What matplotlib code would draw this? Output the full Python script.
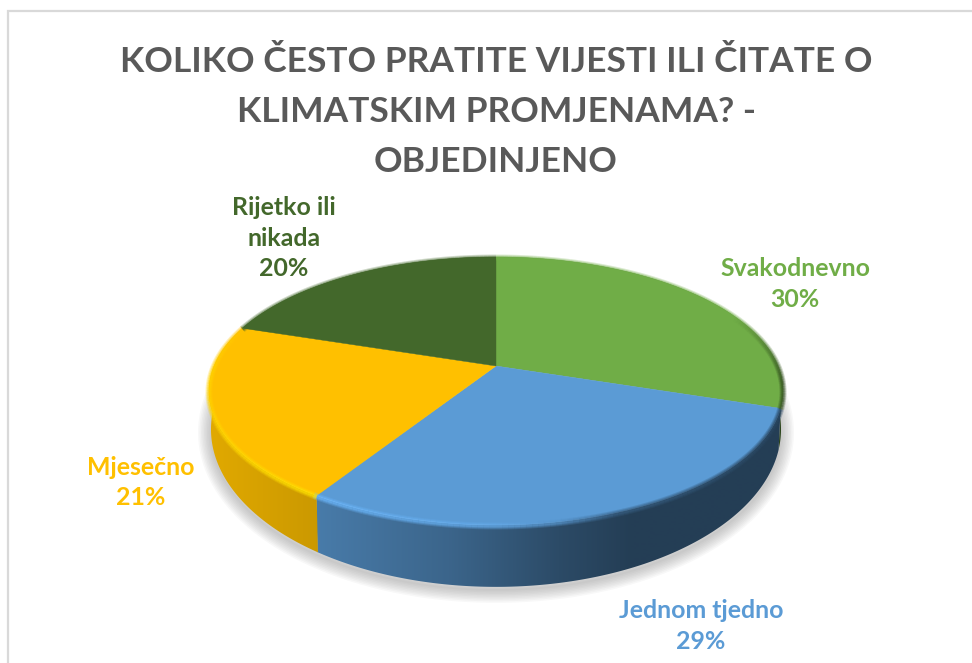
#!/usr/bin/python3
import numpy as np
import matplotlib
matplotlib.use('Agg')
import matplotlib.pyplot as plt
from matplotlib.patches import Polygon
from matplotlib.collections import LineCollection

title = "KOLIKO ČESTO PRATITE VIJESTI ILI ČITATE O\nKLIMATSKIM PROMJENAMA? -\nOBJEDINJENO"
categories = ["Svakodnevno", "Jednom tjedno", "Mjesečno", "Rijetko ili\nnikada"]
values = [30, 29, 21, 20]
colors = ["#70ad47", "#5b9bd5", "#ffc000", "#43682b"]

# where the labels sit, in pixels
label_x = [795, 701, 141, 284]
label_y = [284, 626, 482.5, 238]

# perspective of the disc, fitted on the picture
cx, cy = 496, 366
bx, ay, k = 282, 129.3, 0.1866
bx2, cy2, ay2 = 280, 400, 152


def top_rim(theta):
    u, v = np.sin(np.radians(theta)), np.cos(np.radians(theta))
    w = 1 + k * v
    return cx + bx * u / w, cy - ay * v / w


def bottom_rim(theta):
    u, v = np.sin(np.radians(theta)), np.cos(np.radians(theta))
    w = 1 + k * v
    return cx + bx2 * u / w, cy2 - ay2 * v / w


def side_shade(x):
    return np.interp(x, [210, 312, 450, 560, 630, 790], [.88, .80, .65, .48, .40, .40])


def band_shade(x, theta):
    s = np.interp(x, [210, 320, 500, 560, 620, 790], [1.10, 1.18, 1.10, .95, .60, .45])
    fade = np.interp(theta, [65, 95, 265, 290], [0, 1, 1, 0])
    return 1 + (s - 1) * fade


fig = plt.figure(figsize=(9.72, 6.63), dpi=100)
ax = fig.add_axes([0, 0, 1, 1])
ax.axis('off')

# chart frame, the picture cuts it off right and below
ax.plot([8, 8, 972], [663, 11, 11], color="#d9d9d9", lw=1.6, solid_joinstyle='miter')

edges = np.cumsum([0] + values) / sum(values) * 360

# soft shadow under the disc
th = np.linspace(0, 360, 361)
sx, sy = bottom_rim(th)
for lw in np.arange(26, 1, -3):
    ax.plot(sx, sy + 3, color="#808080", alpha=0.055, lw=lw * 0.72, zorder=1)

# side wall, a horizontal gradient clipped to each wedge's wall
xs = np.arange(200, 800)
for i in range(len(values)):
    base = np.array(matplotlib.colors.to_rgb(colors[i]))
    grad = np.clip(base[None, None, :] * side_shade(xs)[None, :, None], 0, 1)
    im = ax.imshow(grad, extent=[200, 800, 600, 250], aspect='auto', interpolation='bilinear', zorder=2)
    th = np.arange(edges[i], edges[i + 1] + 0.25, 0.25)
    x1, y1 = top_rim(th)
    x2, y2 = bottom_rim(th[::-1])
    wall = Polygon(np.column_stack([np.r_[x1, x2], np.r_[y1, y2]]), closed=True, transform=ax.transData)
    im.set_clip_path(wall)

# top of the disc
for i in range(len(values)):
    th = np.arange(edges[i], edges[i + 1] + 0.25, 0.25)
    x, y = top_rim(th)
    pts = np.column_stack([np.r_[cx, x], np.r_[cy, y]])
    ax.add_patch(Polygon(pts, closed=True, facecolor=colors[i], edgecolor=colors[i], lw=0.3, zorder=3))

# bevel along the rim, a few wide see-through strokes so it looks soft
for i in range(len(values)):
    th = np.arange(edges[i], edges[i + 1] + 1, 1.0)
    base = np.array(matplotlib.colors.to_rgb(colors[i]))
    x, y = top_rim(th)
    for width, alpha in [(7, .25), (5, .35), (3, .5)]:
        segs, cols = [], []
        for j in range(len(th) - 1):
            segs.append([(x[j], y[j] + 1), (x[j + 1], y[j + 1] + 1)])
            c = np.clip(base * band_shade(x[j], th[j]), 0, 1)
            cols.append((c[0], c[1], c[2], alpha))
        ax.add_collection(LineCollection(segs, colors=cols, linewidths=width * 0.72, capstyle='butt', zorder=4))

ax.text(496, 112, title, ha='center', va='center', family='Lato', weight='bold',
        fontsize=25.5, color="#595959", linespacing=1.68)

for i in range(len(values)):
    ax.text(label_x[i], label_y[i], "%s\n%d%%" % (categories[i], values[i]), ha='center', va='center',
            family='Lato', weight='bold', fontsize=17.9, color=colors[i], linespacing=1.385)

ax.set_xlim(0, 972)
ax.set_ylim(663, 0)
fig.savefig('out.png', dpi=100)
